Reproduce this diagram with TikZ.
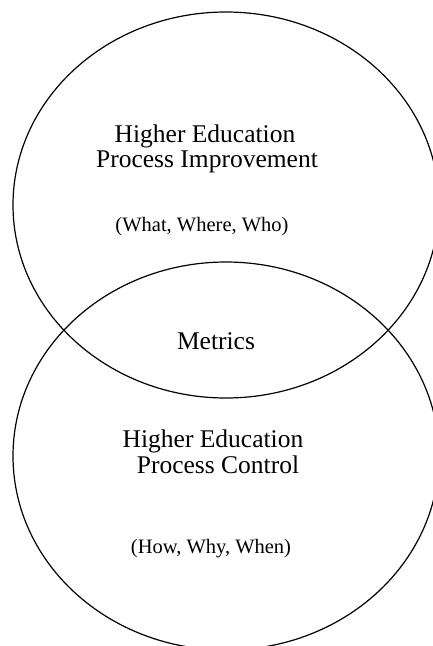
\documentclass[tikz,border=0pt]{standalone}
\usepackage{fontspec}
\setmainfont{Liberation Serif}
\begin{document}
\begin{tikzpicture}[x=1pt,y=1pt,
  ring/.style={draw=black,line width=1.2pt},
  big/.style={anchor=base,inner sep=0pt,font=\fontsize{25.5}{26}\selectfont},
  small/.style={anchor=base,inner sep=0pt,font=\fontsize{20.5}{22}\selectfont}]
\useasboundingbox (0,0) rectangle (433,-646);
\begin{scope}
\clip (0,0) rectangle (433,-646);
\draw[ring] (226,-205) ellipse [x radius=213, y radius=193];
\draw[ring] (226,-456) ellipse [x radius=213, y radius=194];
\end{scope}
\node[big] (t1) at (205,-142) {Higher Education};
\node[big] (t2) at (207,-167) {Process Improvement};
\node[small] (t3) at (202,-231) {(What, Where, Who)};
\node[big] (m) at (216,-349) {Metrics};
\node[big] (b1) at (213,-447) {Higher Education};
\node[big] (b2) at (218,-473) {Process Control};
\node[small] (b3) at (211,-553) {(How, Why, When)};
\end{tikzpicture}
\end{document}
